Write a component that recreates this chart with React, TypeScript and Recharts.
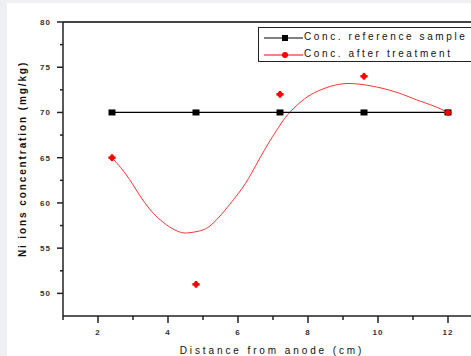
import {
  ComposedChart,
  Line,
  Scatter,
  XAxis,
  YAxis,
  ReferenceLine,
} from "recharts";

const DISTANCES = [2.4, 4.8, 7.2, 9.6, 12];
const REFERENCE_CONC = [70, 70, 70, 70, 70];
const TREATED_CONC = [65, 51, 72, 74, 70];

// fitted curve
const FIT_X = [2.4, 2.9, 3.5, 4.2, 4.6, 4.9, 5.3, 5.9, 6.3, 6.75, 7.2, 7.5, 7.9, 8.3, 8.75, 9.2, 9.7, 10.2, 10.7, 11.1, 11.6, 12];
const FIT_Y = [65.0, 62.6, 59.2, 57.0, 56.7, 56.9, 57.8, 60.5, 62.7, 65.8, 68.6, 70.1, 71.5, 72.4, 73.0, 73.2, 73.0, 72.6, 72.0, 71.4, 70.7, 70.0];

const X_TICKS = [1, 2, 3, 4, 5, 6, 7, 8, 9, 10, 11, 12, 13];
const Y_TICKS = [50, 52.5, 55, 57.5, 60, 62.5, 65, 67.5, 70, 72.5, 75, 77.5, 80];

const refData = DISTANCES.map((x, i) => ({ x, y: REFERENCE_CONC[i] }));
const treatedData = DISTANCES.map((x, i) => ({ x, y: TREATED_CONC[i] }));
const fitData = FIT_X.map((x, i) => ({ x, y: FIT_Y[i] }));

const FONT = "'Liberation Sans', Arial, sans-serif";
const AXIS = "#222";

const XTick = (props: any) => {
  const { x, y, payload } = props;
  const major = payload.value % 2 === 0;
  return (
    <g>
      <line x1={x} x2={x} y1={y} y2={y + (major ? 7 : 4)} stroke={AXIS} strokeWidth={1.5} />
      {major && (
        <text x={x} y={y + 19} textAnchor="middle" fontSize={8} fontWeight="bold" fill="#333" fontFamily={FONT} letterSpacing={1}>
          {payload.value}
        </text>
      )}
    </g>
  );
};

const YTick = (props: any) => {
  const { x, y, payload } = props;
  const major = payload.value % 5 === 0;
  return (
    <g>
      <line x1={x - (major ? 6 : 3)} x2={x} y1={y} y2={y} stroke={AXIS} strokeWidth={1.5} />
      {major && (
        <text x={x - 12} y={y + 3} textAnchor="end" fontSize={8} fontWeight="bold" fill="#333" fontFamily={FONT} letterSpacing={1}>
          {payload.value}
        </text>
      )}
    </g>
  );
};

const SquareDot = (props: any) => {
  const { cx, cy } = props;
  if (cx == null || cy == null) return null;
  return <rect x={cx - 3.5} y={cy - 3} width={7} height={6} fill="#000" />;
};

const RedDot = (props: any) => {
  const { cx, cy } = props;
  if (cx == null || cy == null) return null;
  return (
    <g fill="#f00">
      <circle cx={cx} cy={cy} r={2.6} />
      <rect x={cx - 3.6} y={cy - 1.2} width={7.2} height={2.4} />
      <rect x={cx - 1.2} y={cy - 3.4} width={2.4} height={6.8} />
    </g>
  );
};

export default function App() {
  return (
    <div style={{ position: "absolute", left: 0, top: 0, width: 471, height: 356, overflow: "hidden", background: "#eef0f3" }}>
      <div style={{ position: "absolute", left: 7, top: 3, right: 0, bottom: 0, background: "#fff" }} />
      <div style={{ position: "absolute", left: 0, top: 0 }}>
        <ComposedChart width={490} height={356} margin={{ top: 22, right: 7, bottom: 10, left: 13 }}>
          <XAxis
            type="number"
            dataKey="x"
            domain={[1, 13]}
            ticks={X_TICKS}
            interval={0}
            height={30}
            tick={<XTick />}
            tickLine={false}
            tickSize={0}
            tickMargin={0}
            axisLine={{ stroke: AXIS, strokeWidth: 1.5 }}
            allowDataOverflow
          />
          <YAxis
            type="number"
            dataKey="y"
            domain={[47.5, 80]}
            ticks={Y_TICKS}
            interval={0}
            width={50}
            tick={<YTick />}
            tickLine={false}
            tickSize={0}
            tickMargin={0}
            axisLine={{ stroke: AXIS, strokeWidth: 1.5 }}
            allowDataOverflow
          />
          <ReferenceLine y={80} stroke="#444" strokeWidth={2} />
          <ReferenceLine x={13} stroke="#444" strokeWidth={2} />
          <Line
            data={fitData}
            dataKey="y"
            type="natural"
            stroke="#f33"
            strokeWidth={1}
            dot={false}
            isAnimationActive={false}
          />
          <Line
            data={refData}
            dataKey="y"
            type="linear"
            stroke="#000"
            strokeWidth={1.2}
            dot={<SquareDot />}
            isAnimationActive={false}
          />
          <Scatter data={treatedData} dataKey="y" fill="#f00" shape={<RedDot />} isAnimationActive={false} />
        </ComposedChart>
      </div>

      {/* legend */}
      <div
        style={{
          position: "absolute",
          left: 258,
          top: 27,
          width: 240,
          height: 33,
          border: "1.5px solid #222",
          background: "#fff",
          fontFamily: FONT,
          fontSize: 10,
          letterSpacing: 2.6,
          color: "#111",
        }}
      >
        {[
          { label: "Conc. reference sample", color: "#000", square: true },
          { label: "Conc. after treatment", color: "#f00", square: false },
        ].map((e, i) => (
          <div key={e.label} style={{ position: "absolute", left: 0, top: 4 + i * 17, height: 12, whiteSpace: "nowrap" }}>
            <svg width={44} height={12} style={{ position: "absolute", left: 4, top: 0 }}>
              <line x1={1} x2={40} y1={6} y2={6} stroke={e.color} strokeWidth={1.2} />
              {e.square ? (
                <rect x={19} y={3} width={6} height={6} fill={e.color} />
              ) : (
                <circle cx={22} cy={6} r={3} fill={e.color} />
              )}
            </svg>
            <span style={{ position: "absolute", left: 45, top: -1, lineHeight: "12px" }}>{e.label}</span>
          </div>
        ))}
      </div>

      {/* axis titles */}
      <div
        style={{
          position: "absolute",
          left: 272,
          top: 350,
          transform: "translate(-50%, -50%)",
          fontFamily: FONT,
          fontSize: 10,
          letterSpacing: 2.9,
          color: "#111",
          whiteSpace: "nowrap",
        }}
      >
        Distance from anode (cm)
      </div>
      <div
        style={{
          position: "absolute",
          left: 22,
          top: 159,
          transform: "translate(-50%, -50%) rotate(-90deg)",
          fontFamily: FONT,
          fontSize: 10,
          fontWeight: "bold",
          letterSpacing: 1.9,
          color: "#111",
          whiteSpace: "nowrap",
        }}
      >
        Ni ions concentration (mg/kg)
      </div>
    </div>
  );
}
